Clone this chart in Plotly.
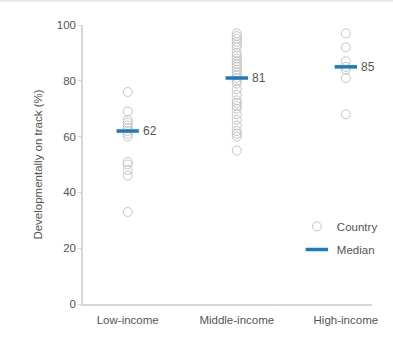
import plotly.graph_objects as go

categories = ["Low-income", "Middle-income", "High-income"]
low_income = [76, 69, 66, 65, 64, 63, 62, 61, 60, 51, 50, 48, 46, 33]
middle_income = [97, 96, 95, 94, 93, 92, 90, 89, 88, 87, 86, 85, 84, 83, 82, 81,
                 80, 79, 77, 75, 73, 72, 71, 70, 68, 66, 64, 62, 61, 60, 55]
high_income = [97, 92, 87, 85, 84, 81, 68]
medians = [62, 81, 85]
y_ticks = [0, 20, 40, 60, 80, 100]

FONT = "Liberation Sans"
TXT = "#555555"
GRAY = "#c4c4c4"
BLUE = "#1d7ac0"

groups = [low_income, middle_income, high_income]
xs, ys = [], []
for i, vals in enumerate(groups):
    xs += [i] * len(vals)
    ys += vals

fig = go.Figure()
fig.add_trace(go.Scatter(
    x=xs, y=ys, mode="markers", name="Country",
    marker=dict(symbol="circle-open", size=9, color=GRAY, line=dict(width=1, color=GRAY)),
    legendgroup="a",
))
fig.add_trace(go.Scatter(
    x=list(range(len(categories))), y=medians, mode="markers", name="Median",
    marker=dict(symbol="line-ew", size=16, color=BLUE, line=dict(width=3.5, color=BLUE)),
    legendgroup="b",
))

for i, m in enumerate(medians):
    fig.add_annotation(x=i, y=m, text=str(m), showarrow=False, xanchor="left",
                       xshift=13, font=dict(family=FONT, size=12, color=TXT))

fig.add_shape(type="line", xref="paper", yref="paper", x0=-1, x1=2, y0=1.087, y1=1.087,
              line=dict(color="#e6e6e6", width=2))

fig.update_layout(
    width=393, height=338,
    margin=dict(l=83, r=10, t=25, b=34),
    paper_bgcolor="white", plot_bgcolor="white",
    font=dict(family=FONT, size=11.5, color=TXT),
    showlegend=True,
    legend=dict(x=0.74, y=0.33, xanchor="left", yanchor="top",
                bgcolor="rgba(0,0,0,0)", font=dict(size=11.5, color=TXT),
                traceorder="grouped", tracegroupgap=4),
    xaxis=dict(range=[-0.41, 2.24], tickmode="array", tickvals=[0, 1, 2],
               ticktext=categories, showgrid=False, zeroline=False,
               showline=True, linecolor="#d6d6d6", linewidth=2, ticks="",
               ticklabelstandoff=4),
    yaxis=dict(range=[0, 100], tickvals=y_ticks, showgrid=False, zeroline=False,
               showline=True, linecolor="#d6d6d6", linewidth=1.5,
               ticks="outside", ticklen=3, tickcolor="#d6d6d6",
               title=dict(text="Developmentally on track (%)", standoff=12,
                          font=dict(size=11.5, color=TXT))),
)

fig.write_html("out.html")
